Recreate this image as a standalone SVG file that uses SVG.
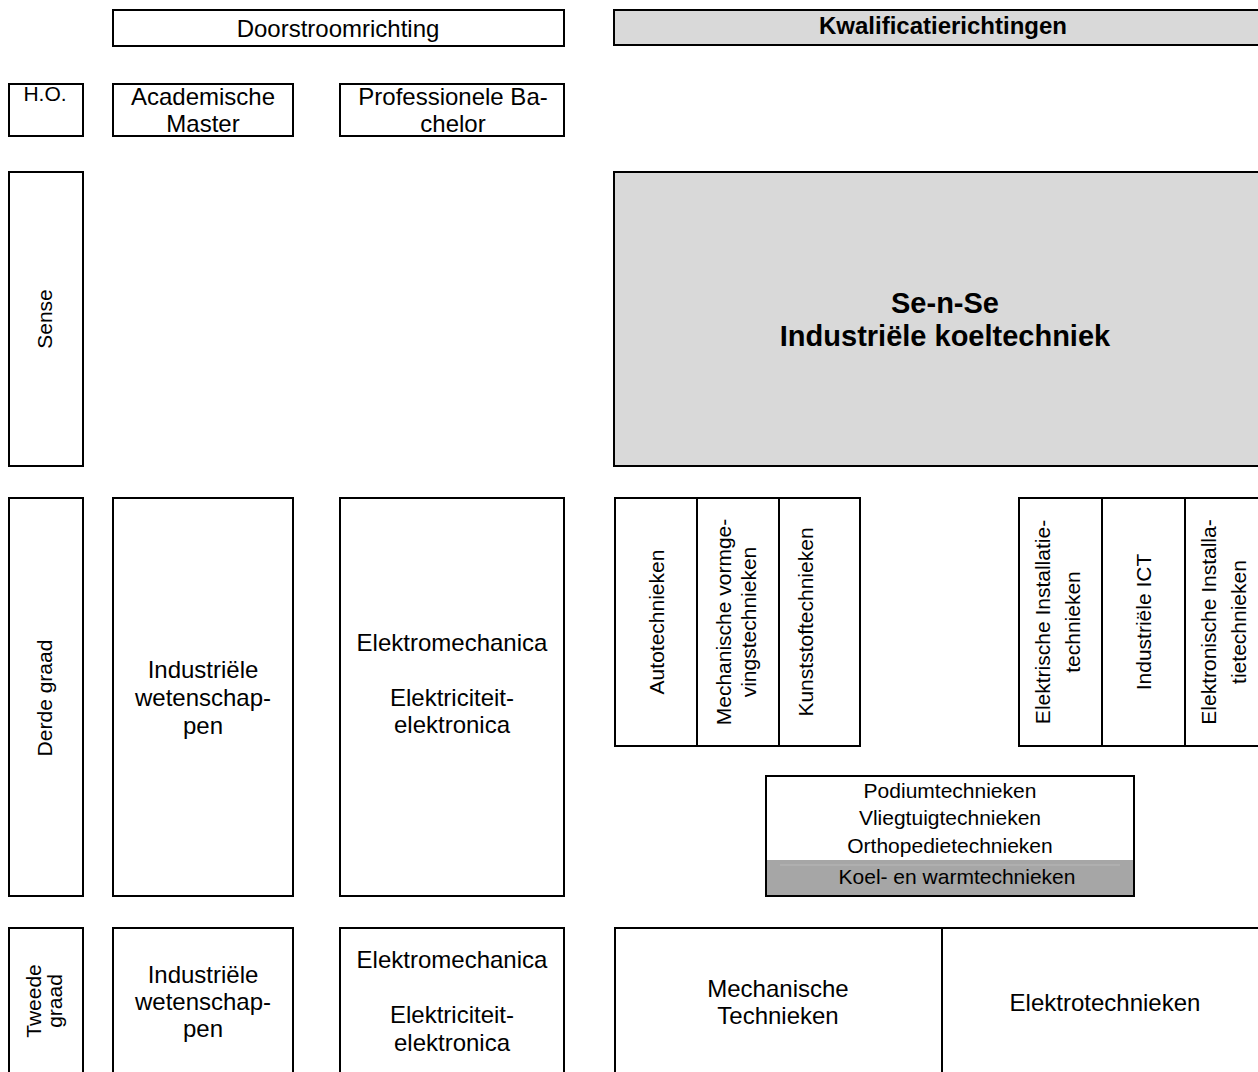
<svg xmlns="http://www.w3.org/2000/svg" width="1258" height="1072" viewBox="0 0 1258 1072">
<style>
.box{fill:#fff;stroke:#000;stroke-width:2}
.grey{fill:#d9d9d9;stroke:#000;stroke-width:2}
.div{stroke:#000;stroke-width:2;fill:none}
text{font-family:"Liberation Sans",Arial,sans-serif;fill:#000;text-anchor:middle}
.t24{font-size:24px}
.t21{font-size:21px}
.b24{font-size:24px;font-weight:bold}
.b29{font-size:29px;font-weight:bold}
</style>
<rect width="1258" height="1072" fill="#fff"/>
<g id="connectors"/>
<g id="doorstroomrichting">
<rect class="box" x="113" y="10" width="451" height="36"/>
<text class="t24" x="338" y="37">Doorstroomrichting</text>
</g>
<g id="kwalificatierichtingen">
<rect class="grey" x="614" y="10" width="660" height="35"/>
<text class="b24" x="943" y="34">Kwalificatierichtingen</text>
</g>
<g id="ho">
<rect class="box" x="9" y="84" width="74" height="52"/>
<text class="t21" x="45" y="101">H.O.</text>
</g>
<g id="academische-master">
<rect class="box" x="113" y="84" width="180" height="52"/>
<text class="t24" x="203" y="105">Academische</text>
<text class="t24" x="203" y="132">Master</text>
</g>
<g id="professionele-bachelor">
<rect class="box" x="340" y="84" width="224" height="52"/>
<text class="t24" x="453" y="105">Professionele Ba-</text>
<text class="t24" x="453" y="132">chelor</text>
</g>
<g id="sense">
<rect class="box" x="9" y="172" width="74" height="294"/>
<text class="t21" transform="translate(52,319) rotate(-90)">Sense</text>
</g>
<g id="se-n-se">
<rect class="grey" x="614" y="172" width="660" height="294"/>
<text class="b29" x="945" y="313">Se-n-Se</text>
<text class="b29" x="945" y="346">Industriële koeltechniek</text>
</g>
<g id="derde-graad">
<rect class="box" x="9" y="498" width="74" height="398"/>
<text class="t21" transform="translate(52,698) rotate(-90)">Derde graad</text>
</g>
<g id="industriele-wetenschappen-3">
<rect class="box" x="113" y="498" width="180" height="398"/>
<text class="t24" x="203" y="678">Industriële</text>
<text class="t24" x="203" y="706">wetenschap-</text>
<text class="t24" x="203" y="734">pen</text>
</g>
<g id="elektromechanica-3">
<rect class="box" x="340" y="498" width="224" height="398"/>
<text class="t24" x="452" y="651">Elektromechanica</text>
<text class="t24" x="452" y="706">Elektriciteit-</text>
<text class="t24" x="452" y="733">elektronica</text>
</g>
<g id="mechanische-kwalificaties">
<rect class="box" x="615" y="498" width="245" height="248"/>
<line class="div" x1="697" y1="498" x2="697" y2="746"/>
<line class="div" x1="779" y1="498" x2="779" y2="746"/>
<text class="t21" transform="translate(664,622) rotate(-90)">Autotechnieken</text>
<text class="t21" transform="translate(731,622) rotate(-90)">Mechanische vormge-</text>
<text class="t21" transform="translate(756,622) rotate(-90)">vingstechnieken</text>
<text class="t21" transform="translate(813,622) rotate(-90)">Kunststoftechnieken</text>
</g>
<g id="elektro-kwalificaties">
<rect class="box" x="1019" y="498" width="260" height="248"/>
<line class="div" x1="1102" y1="498" x2="1102" y2="746"/>
<line class="div" x1="1185" y1="498" x2="1185" y2="746"/>
<text class="t21" transform="translate(1050,622) rotate(-90)">Elektrische Installatie-</text>
<text class="t21" transform="translate(1080,622) rotate(-90)">technieken</text>
<text class="t21" transform="translate(1151,622) rotate(-90)">Industriële ICT</text>
<text class="t21" transform="translate(1216,622) rotate(-90)">Elektronische Installa-</text>
<text class="t21" transform="translate(1246,622) rotate(-90)">tietechnieken</text>
</g>
<g id="podium-vliegtuig-orthopedie-koel">
<rect class="box" x="766" y="776" width="368" height="120"/>
<rect x="767" y="860" width="366" height="35" fill="#a6a6a6"/>
<line x1="780" y1="865" x2="1120" y2="865" stroke="#b8b8b8" stroke-width="1"/>
<text class="t21" x="950" y="798">Podiumtechnieken</text>
<text class="t21" x="950" y="825">Vliegtuigtechnieken</text>
<text class="t21" x="950" y="853">Orthopedietechnieken</text>
<text class="t21" x="957" y="884">Koel- en warmtechnieken</text>
</g>
<g id="tweede-graad">
<rect class="box" x="9" y="928" width="74" height="160"/>
<text class="t21" transform="translate(41,1001) rotate(-90)">Tweede</text>
<text class="t21" transform="translate(62,1001) rotate(-90)">graad</text>
</g>
<g id="industriele-wetenschappen-2">
<rect class="box" x="113" y="928" width="180" height="160"/>
<text class="t24" x="203" y="983">Industriële</text>
<text class="t24" x="203" y="1010">wetenschap-</text>
<text class="t24" x="203" y="1037">pen</text>
</g>
<g id="elektromechanica-2">
<rect class="box" x="340" y="928" width="224" height="160"/>
<text class="t24" x="452" y="968">Elektromechanica</text>
<text class="t24" x="452" y="1023">Elektriciteit-</text>
<text class="t24" x="452" y="1051">elektronica</text>
</g>
<g id="mechanische-technieken">
<rect class="box" x="615" y="928" width="327" height="160"/>
<text class="t24" x="778" y="997">Mechanische</text>
<text class="t24" x="778" y="1024">Technieken</text>
</g>
<g id="elektrotechnieken">
<rect class="box" x="942" y="928" width="330" height="160"/>
<text class="t24" x="1105" y="1011">Elektrotechnieken</text>
</g>
</svg>
